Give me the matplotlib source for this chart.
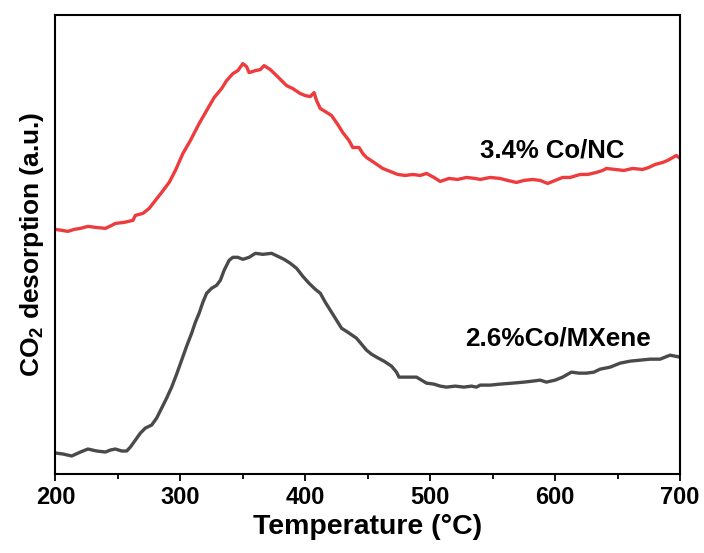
import matplotlib
matplotlib.use("Agg")
import matplotlib.pyplot as plt
import numpy as np

plt.rcParams['font.family'] = ['Liberation Sans', 'DejaVu Sans']
plt.rcParams['font.weight'] = 'bold'
plt.rcParams['mathtext.fontset'] = 'custom'
plt.rcParams['mathtext.rm'] = 'Liberation Sans:bold'
plt.rcParams['mathtext.bf'] = 'Liberation Sans:bold'

# Temperature (°C) and intensity (a.u.) for 3.4% Co/NC
temp_conc = [200, 205, 210, 215, 220, 226, 232, 240, 245, 248, 255, 262, 264, 270, 275, 280,
             285, 291, 296, 302, 308, 315, 321, 327, 333, 337, 342, 346, 350, 353, 355, 360,
             364, 367, 372, 377, 381, 385, 390, 396, 400, 404, 407, 409, 412, 416, 421, 426,
             430, 435, 438, 443, 446, 449, 455, 462, 468, 474, 480, 486, 492, 497, 503, 508,
             515, 522, 529, 536, 540, 548, 556, 562, 569, 575, 582, 588, 594, 600, 606, 612,
             620, 626, 633, 638, 641, 648, 655, 662, 670, 675, 680, 686, 690, 697, 700]
signal_conc = [245, 244, 243, 245, 246, 248, 247, 246, 249, 251, 252, 254, 259, 261, 266, 274,
               282, 292, 304, 321, 334, 351, 364, 377, 386, 394, 401, 404, 411, 408, 402, 404,
               405, 409, 405, 399, 394, 389, 386, 381, 379, 378, 382, 374, 366, 363, 359, 350,
               342, 334, 327, 327, 321, 317, 312, 306, 303, 300, 299, 300, 299, 301, 297, 293,
               296, 295, 297, 296, 295, 297, 296, 294, 292, 294, 295, 294, 291, 294, 297, 297,
               300, 300, 302, 304, 306, 305, 304, 306, 305, 307, 310, 312, 314, 319, 316]

# Temperature (°C) and intensity (a.u.) for 2.6%Co/MXene
temp_mxene = [200, 206, 213, 220, 226, 233, 240, 244, 248, 253, 257, 260, 264, 268, 272, 277,
              281, 285, 289, 293, 297, 301, 305, 309, 312, 315, 318, 321, 325, 329, 332, 335,
              339, 342, 346, 350, 355, 360, 366, 373, 378, 383, 388, 393, 398, 403, 408, 412,
              416, 420, 425, 429, 434, 441, 445, 449, 453, 457, 463, 469, 473, 475, 481, 489,
              493, 497, 503, 508, 513, 520, 527, 533, 537, 540, 548, 556, 566, 575, 582, 588,
              593, 600, 606, 613, 619, 625, 631, 636, 644, 652, 660, 668, 676, 684, 688, 692,
              696, 700]
signal_mxene = [21, 20, 18, 22, 25, 23, 22, 24, 25, 23, 23, 27, 34, 41, 46, 49,
                56, 66, 76, 87, 100, 114, 128, 141, 152, 161, 172, 181, 186, 189, 194, 204,
                214, 217, 217, 215, 217, 221, 220, 221, 218, 215, 211, 206, 198, 191, 185, 181,
                172, 164, 154, 146, 142, 136, 130, 124, 120, 117, 113, 108, 102, 97, 97, 97,
                94, 91, 90, 88, 87, 88, 87, 88, 87, 89, 89, 90, 91, 92, 93, 94,
                92, 94, 97, 102, 101, 101, 102, 105, 107, 111, 113, 114, 115, 115, 117, 119,
                118, 117]

labels = ["3.4% Co/NC", "2.6%Co/MXene"]
colors = ["#ee3b3d", "#4a4a4a"]

fig = plt.figure(figsize=(7.04, 5.53), dpi=100)
ax = fig.add_axes([0.0788, 0.1429, 0.8872, 0.8305])

ax.plot(temp_conc, signal_conc, color=colors[0], lw=2.4)
ax.plot(temp_mxene, signal_mxene, color=colors[1], lw=2.4)

ax.set_xlim(200, 700)
ax.set_ylim(0, 460)
ax.set_xticks([200, 300, 400, 500, 600, 700])
ax.set_xticks([250, 350, 450, 550, 650], minor=True)
ax.set_yticks([])
ax.tick_params(axis='x', which='major', direction='out', length=5, width=1.3,
               labelsize=17, pad=4)
ax.tick_params(axis='x', which='minor', direction='out', length=3.5, width=1.3)
for lab in ax.get_xticklabels():
    lab.set_fontweight('bold')
for s in ax.spines.values():
    s.set_linewidth(1.5)

ax.set_xlabel("Temperature (°C)", fontsize=20.5, fontweight='bold', labelpad=3)
ax.set_ylabel(r"CO$_{\mathbf{2}}$ desorption (a.u.)", fontsize=19, fontweight='bold', labelpad=7)

ax.text(0.795, 0.704, labels[0], transform=ax.transAxes, ha='center', va='center',
        fontsize=18.5, fontweight='bold')
ax.text(0.805, 0.296, labels[1], transform=ax.transAxes, ha='center', va='center',
        fontsize=18.8, fontweight='bold')

fig.savefig("out.png", dpi=100)
